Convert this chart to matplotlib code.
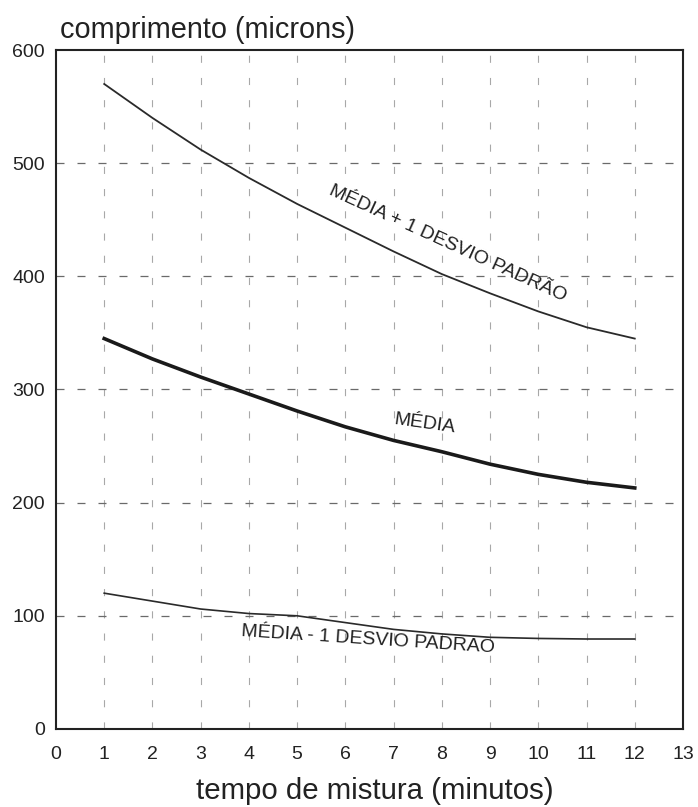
import matplotlib
matplotlib.use("Agg")
import matplotlib.pyplot as plt

plt.rcParams['font.family'] = ['Liberation Sans', 'DejaVu Sans']

tempo = [1, 2, 3, 4, 5, 6, 7, 8, 9, 10, 11, 12]
media_mais = [570, 540, 512, 487, 464, 443, 422, 402, 385, 369, 355, 345]
media = [345, 327, 311, 296, 281, 267, 255, 245, 234, 225, 218, 213]
media_menos = [120, 113, 106, 102, 100, 94, 88, 84, 81, 80, 79.5, 79.5]

xticks = list(range(0, 14))
yticks = [0, 100, 200, 300, 400, 500, 600]

fig = plt.figure(figsize=(6.98, 8.07), dpi=100)
ax = fig.add_axes([0.0802, 0.0967, 0.8983, 0.8413])

ax.set_xlim(0, 13)
ax.set_ylim(0, 600)
ax.set_xticks(xticks)
ax.set_yticks(yticks)
ax.tick_params(length=0, labelsize=14, colors='#222222')
ax.tick_params(axis='x', pad=12)
ax.tick_params(axis='y', pad=8)

for x in range(1, 13):
    ax.axvline(x, color='#a8a8a8', lw=0.8, dashes=(6.4, 13.6), zorder=1)
for y in range(100, 600, 100):
    ax.axhline(y, color='#6a6a6a', lw=0.9, dashes=(6.4, 10.4), zorder=1)

for s in ax.spines.values():
    s.set_linewidth(1.5)
    s.set_color('#222222')

ax.plot(tempo, media_mais, color='#2a2a2a', lw=1.3, zorder=3)
ax.plot(tempo, media, color='#1a1a1a', lw=2.6, zorder=3)
ax.plot(tempo, media_menos, color='#2a2a2a', lw=1.2, zorder=3)

ax.text(8.12, 429, 'MÉDIA + 1 DESVIO PADRÃO', rotation=-24.5, ha='center', va='center',
        fontsize=14, color='#222222', rotation_mode='anchor')
ax.text(7.64, 270, 'MÉDIA', rotation=-8, ha='center', va='center',
        fontsize=14, color='#222222', rotation_mode='anchor')
ax.text(6.46, 79, 'MÉDIA - 1 DESVIO PADRAO', rotation=-3.7, ha='center', va='center',
        fontsize=14, color='#222222', rotation_mode='anchor')

fig.text(60 / 698, 1 - 38 / 807, 'comprimento (microns)', ha='left', va='baseline',
         fontsize=20.8, color='#222222')
fig.text(375 / 698, 1 - 799 / 807, 'tempo de mistura (minutos)', ha='center', va='baseline',
         fontsize=21.2, color='#222222')

fig.savefig('out.png', dpi=100)
